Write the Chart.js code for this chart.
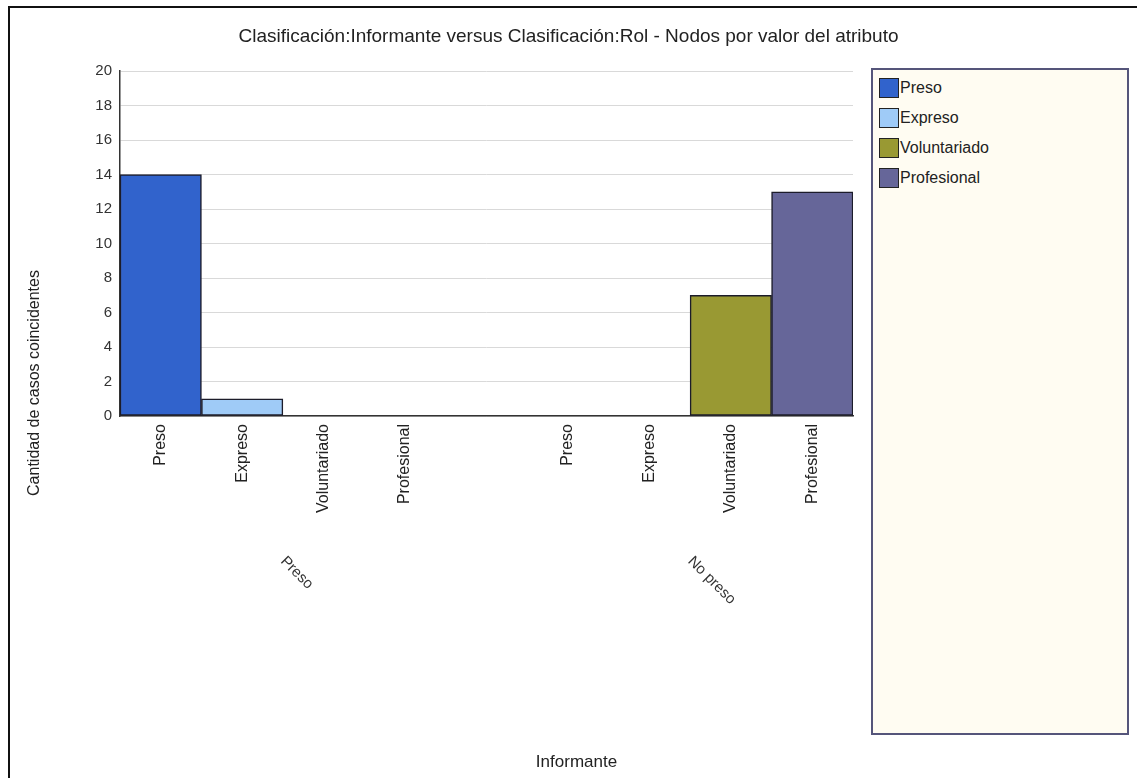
<!DOCTYPE html>
<html lang="es">
<head>
    <meta charset="UTF-8">
    <title>Nodos por valor del atributo</title>
    <script src="https://cdn.jsdelivr.net/npm/chart.js@4.4.1/dist/chart.umd.min.js"></script>
    <style>
        body { margin: 0; background: #fff; font-family: "Liberation Sans", Arial, sans-serif; }
        #wrap { position: relative; width: 1137px; height: 778px; overflow: hidden; }
        #frame { position: absolute; left: 8px; top: 6px; right: -4px; bottom: -4px;
                 border-top: 2px solid #111; border-left: 2px solid #111; pointer-events: none; }
        #legend { position: absolute; left: 871px; top: 68px; width: 254px; height: 663px;
                  border: 2px solid #55557a; background: #fffcf2; }
        .item { position: absolute; left: 6px; height: 20px; display: flex; align-items: center;
                font-size: 16px; color: #222; }
        .item span.box { width: 20px; height: 20px; border: 1px solid #222; margin-right: 1px; box-sizing: border-box; }
    </style>
</head>
<body>
<div id="wrap">
    <canvas id="chart" width="1137" height="778"></canvas>
    <div id="legend"></div>
    <div id="frame"></div>
</div>

<script>
    // categorias de Informante y valores de Rol en cada una
    const groups = ['Preso', 'No preso'];
    const roles = ['Preso', 'Expreso', 'Voluntariado', 'Profesional'];
    const colors = ['#3163cc', '#9fcbf7', '#999933', '#666699'];
    const valuesPreso = [14, 1, 0, 0];
    const valuesNoPreso = [0, 0, 7, 13];
    const yTicks = [0, 2, 4, 6, 8, 10, 12, 14, 16, 18, 20];
    const titleText = 'Clasificación:Informante versus Clasificación:Rol - Nodos por valor del atributo';

    // 9 huecos: 4 barras, un hueco vacio, 4 barras
    const labels = [...roles, '', ...roles];
    const datasets = roles.map((r, i) => {
        const d = labels.map(() => null);
        d[i] = valuesPreso[i];
        d[roles.length + 1 + i] = valuesNoPreso[i];
        return {
            label: r,
            data: d,
            backgroundColor: colors[i],
            borderColor: '#1c1c2a',
            borderWidth: 1.5,
            borderSkipped: false,
            skipNull: true,
            categoryPercentage: 1,
            barPercentage: 1
        };
    });

    const FONT = '"Liberation Sans", Arial, sans-serif';

    const extraText = {
        id: 'extraText',
        afterDraw(chart) {
            const ctx = chart.ctx;
            const x = chart.scales.x;
            const area = chart.chartArea;
            ctx.save();
            ctx.fillStyle = '#222';

            // titulo centrado en todo el ancho
            ctx.font = '19px ' + FONT;
            ctx.textAlign = 'center';
            ctx.textBaseline = 'middle';
            ctx.fillText(titleText, chart.width / 2, 37);

            // etiquetas de grupo giradas
            ctx.font = '15px ' + FONT;
            ctx.fillStyle = '#333';
            groups.forEach((g, gi) => {
                const first = gi * (roles.length + 1);
                const cx = (x.getPixelForValue(first) + x.getPixelForValue(first + roles.length - 1)) / 2;
                ctx.save();
                ctx.translate(cx, area.bottom + 143);
                ctx.rotate(Math.PI / 4);
                ctx.textAlign = 'left';
                ctx.textBaseline = 'middle';
                ctx.fillText(g, 0, 0);
                ctx.restore();
            });

            // titulo eje x
            ctx.font = '17px ' + FONT;
            ctx.fillStyle = '#222';
            ctx.textAlign = 'center';
            ctx.fillText('Informante', chart.width / 2 + 8, 762);

            // titulo eje y
            ctx.font = '16px ' + FONT;
            ctx.save();
            ctx.translate(35, chart.height / 2 - 6);
            ctx.rotate(-Math.PI / 2);
            ctx.fillText('Cantidad de casos coincidentes', 0, 0);
            ctx.restore();
            ctx.restore();
        }
    };

    const ctx = document.getElementById('chart').getContext('2d');
    const chart = new Chart(ctx, {
        type: 'bar',
        data: { labels: labels, datasets: datasets },
        options: {
            responsive: false,
            animation: false,
            layout: { padding: { left: 0, right: 284, top: 71, bottom: 22 } },
            plugins: {
                legend: { display: false },
                tooltip: { enabled: false },
                title: { display: false }
            },
            scales: {
                x: {
                    grid: { display: false },
                    border: { display: true, color: '#333', width: 1.5 },
                    ticks: {
                        color: '#222',
                        font: { family: FONT, size: 16 },
                        minRotation: 90,
                        maxRotation: 90,
                        padding: 0,
                        autoSkip: false
                    },
                    afterFit: s => { s.height = 340; }
                },
                y: {
                    min: 0,
                    max: 20,
                    afterBuildTicks: s => { s.ticks = yTicks.map(v => ({ value: v })); },
                    grid: { color: '#d9d9d9', drawTicks: false },
                    border: { display: true, color: '#333', width: 1.5 },
                    ticks: {
                        color: '#333',
                        font: { family: FONT, size: 15 },
                        padding: 8
                    },
                    afterFit: s => { s.width = 120; }
                }
            }
        },
        plugins: [extraText]
    });

    // leyenda propia con recuadro
    const legend = document.getElementById('legend');
    chart.data.datasets.forEach((ds, i) => {
        const item = document.createElement('div');
        item.className = 'item';
        item.style.top = (8 + i * 30) + 'px';
        item.innerHTML = '<span class="box" style="background:' + ds.backgroundColor + '"></span>' + ds.label;
        legend.appendChild(item);
    });
</script>
</body>
</html>
